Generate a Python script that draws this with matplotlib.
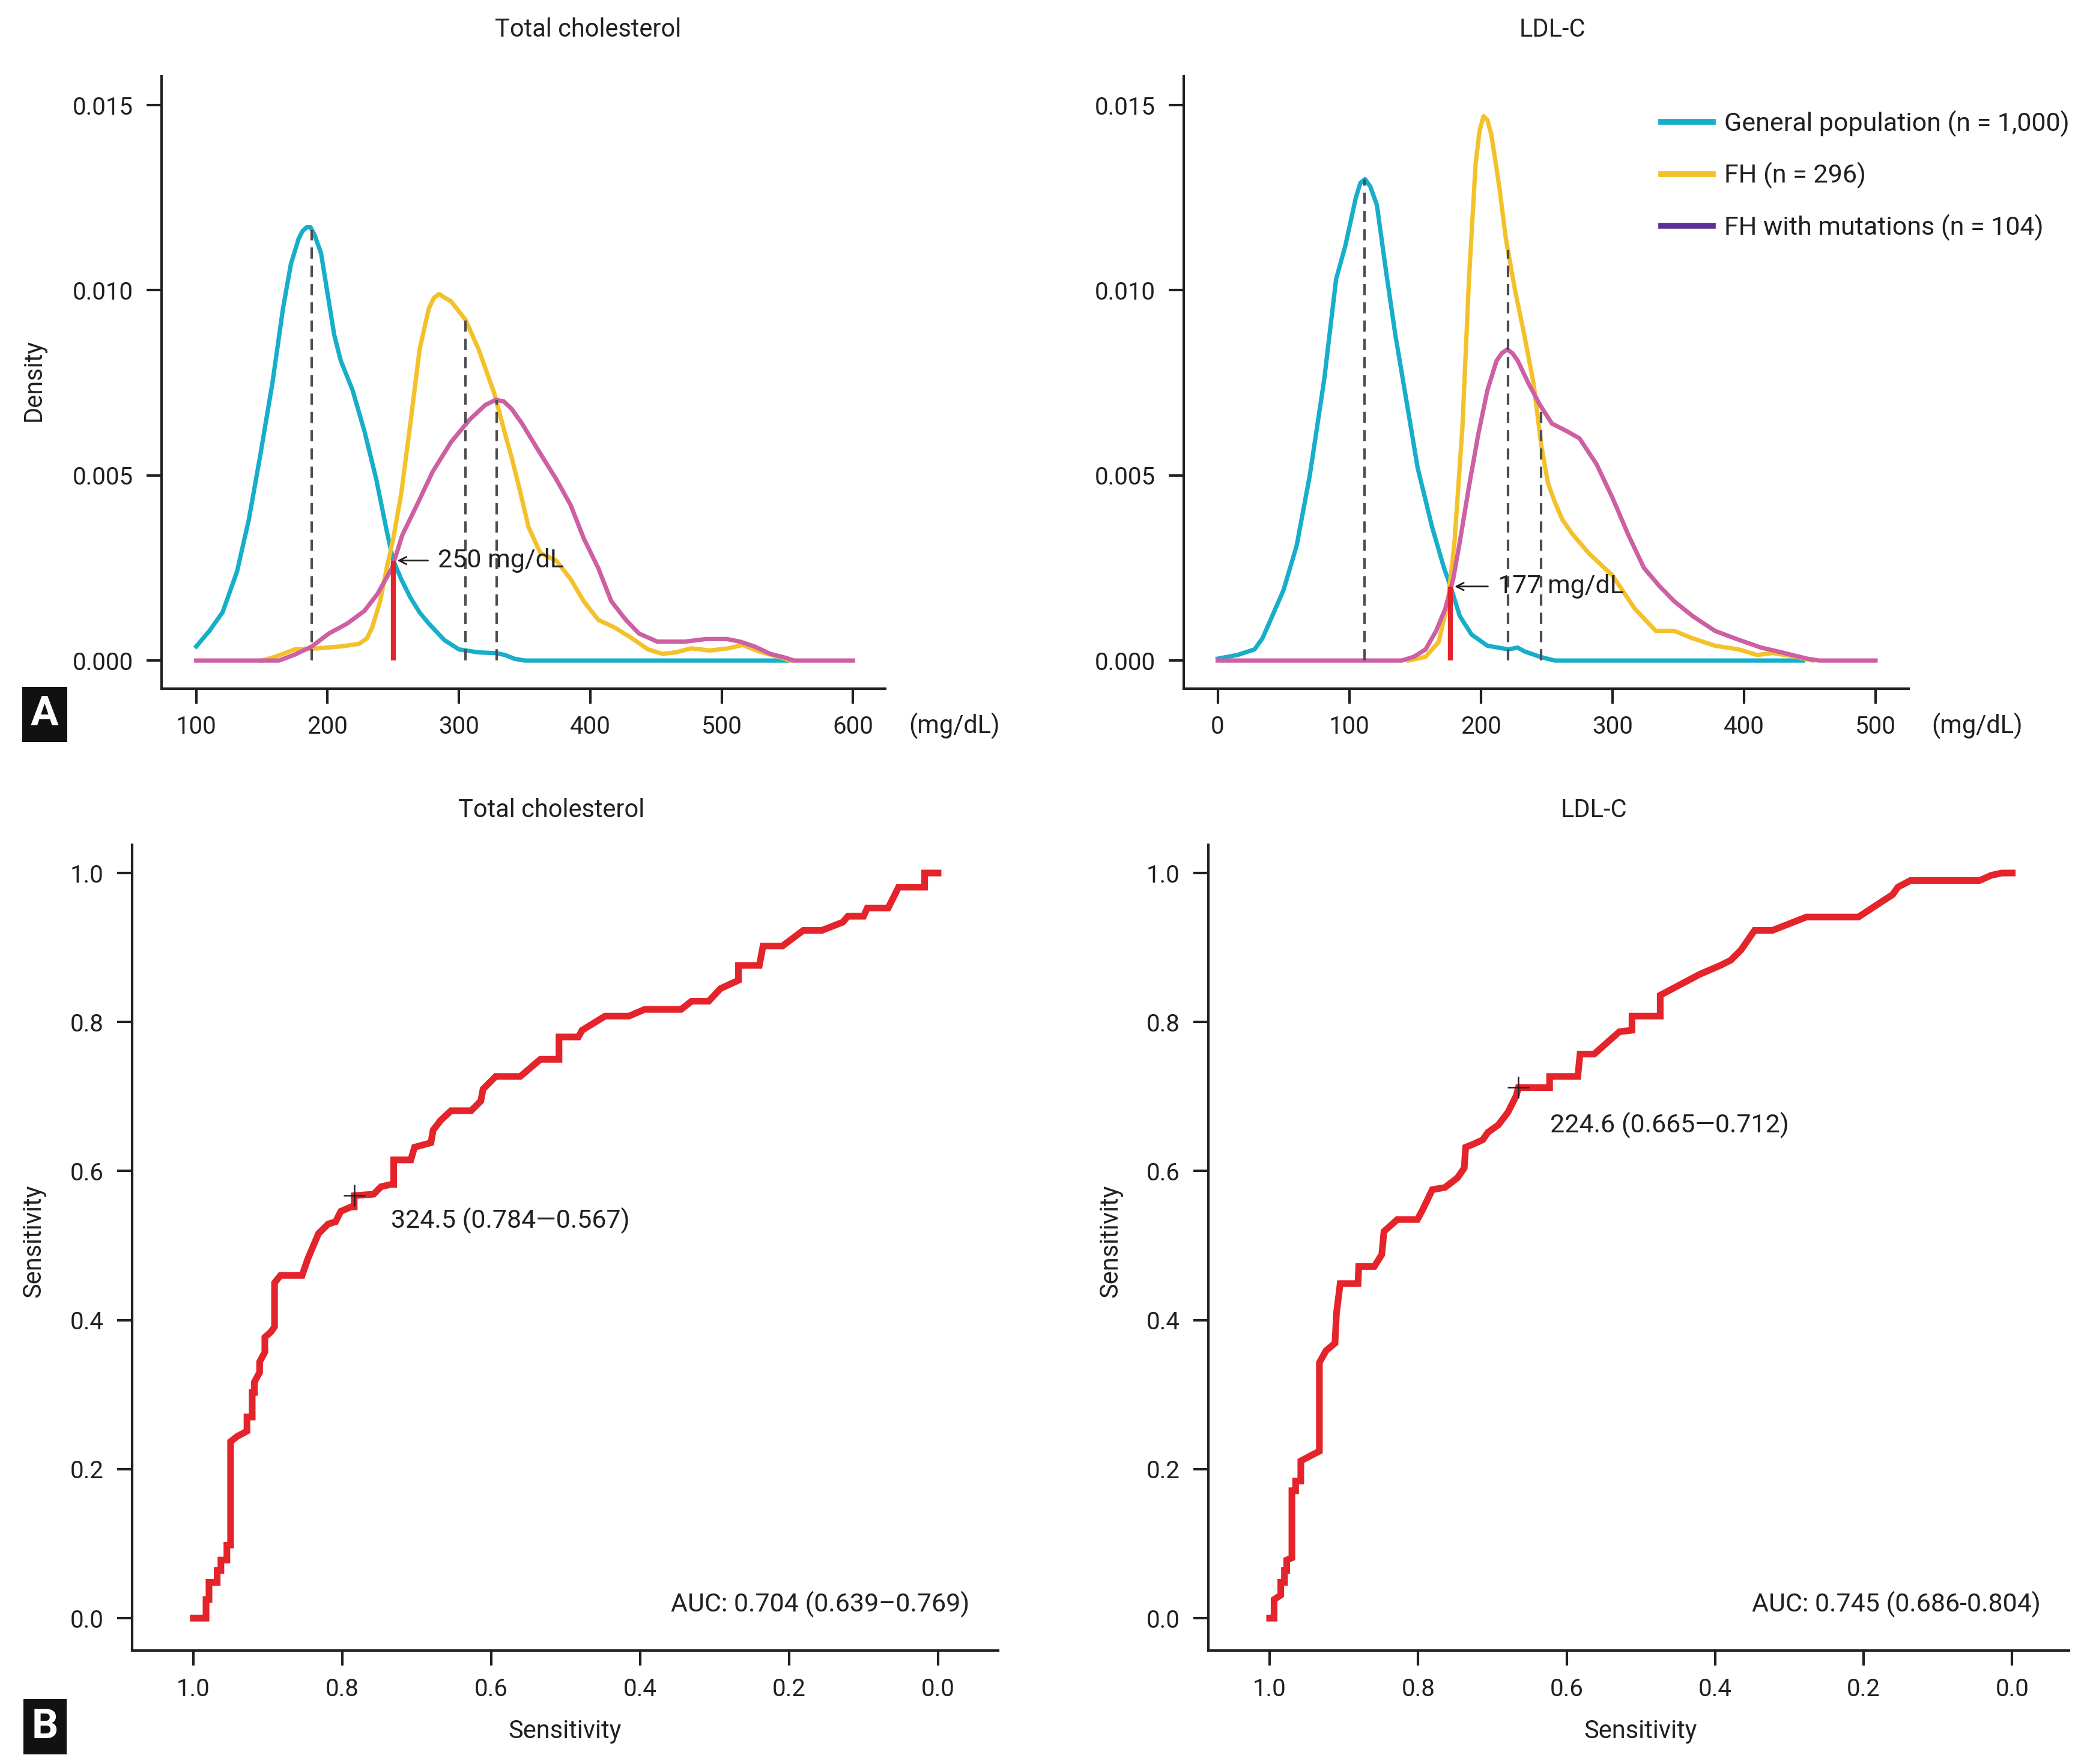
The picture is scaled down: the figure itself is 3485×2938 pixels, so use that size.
import matplotlib.pyplot as plt
import numpy as np
from matplotlib.lines import Line2D

plt.rcParams["font.family"] = ["Roboto", "DejaVu Sans"]

# ---- density curves, total cholesterol (mg/dL, density) ----
tc_gen_x = [100, 110, 120, 125, 131, 140, 149, 158, 166, 172, 178, 181, 184, 187, 190,
            195, 200, 205, 210, 219, 228, 237, 245, 250, 256, 263, 270, 277, 289, 300,
            315, 328, 335, 342, 350, 400, 500, 550]
tc_gen_y = [0.00038, 0.0008, 0.0013, 0.0018, 0.0024, 0.0038, 0.0056, 0.0075, 0.0095,
            0.0107, 0.0114, 0.0116, 0.0117, 0.0117, 0.0115, 0.0110, 0.0099, 0.0088,
            0.0081, 0.0073, 0.0062, 0.0049, 0.0035, 0.0027, 0.0022, 0.0017, 0.0013,
            0.0010, 0.00055, 0.0003, 0.00022, 0.0002, 0.00015, 0.00005, 0.0, 0.0, 0.0, 0.0]
tc_fh_x = [150, 160, 175, 193, 210, 224, 230, 234, 240, 245, 250, 256, 263, 270, 277,
           281, 285, 289, 294, 305, 315, 327, 336, 340, 347, 353, 362, 368, 374, 385,
           395, 406, 418, 430, 444, 455, 465, 477, 491, 505, 516, 528, 546, 553]
tc_fh_y = [0.0, 0.0001, 0.0003, 0.00033, 0.00038, 0.00045, 0.0006, 0.0009, 0.0016,
           0.0025, 0.0033, 0.0045, 0.0064, 0.0084, 0.0095, 0.0098, 0.0099, 0.0098,
           0.0097, 0.0092, 0.0084, 0.0072, 0.0060, 0.0055, 0.0045, 0.0036, 0.0029,
           0.0028, 0.0027, 0.0022, 0.0016, 0.0011, 0.0009, 0.00064, 0.0003, 0.00018,
           0.00022, 0.00033, 0.00027, 0.00033, 0.00042, 0.00025, 0.00007, 0.0]
tc_mut_x = [100, 163, 175, 188, 201, 215, 228, 238, 249, 257, 268, 280, 294, 308, 320,
            328, 334, 340, 348, 360, 374, 385, 395, 406, 416, 427, 437, 451, 472, 488,
            504, 514, 525, 537, 549, 555, 600]
tc_mut_y = [0.0, 0.0, 0.00016, 0.00038, 0.00073, 0.0010, 0.00134, 0.0018, 0.0025,
            0.0034, 0.0042, 0.0051, 0.0059, 0.0065, 0.0069, 0.00704, 0.0070, 0.0068,
            0.0064, 0.0057, 0.0049, 0.0042, 0.0033, 0.0025, 0.0016, 0.0011, 0.00073,
            0.00051, 0.00051, 0.00058, 0.00058, 0.00051, 0.00038, 0.00018, 0.00007,
            0.0, 0.0]

# ---- density curves, LDL-C ----
ldl_gen_x = [0, 15, 28, 34, 39, 50, 60, 70, 81, 90, 97, 105, 108.5, 112, 116, 121, 128,
             135, 144, 152, 163, 172, 177, 184, 193, 205, 221, 228, 233, 245, 256, 445]
ldl_gen_y = [0.00005, 0.00015, 0.0003, 0.0006, 0.001, 0.0019, 0.0031, 0.005, 0.0076,
             0.0103, 0.0112, 0.0125, 0.0129, 0.0130, 0.0128, 0.0123, 0.0105, 0.0088,
             0.0069, 0.0052, 0.0036, 0.0025, 0.002, 0.0012, 0.0007, 0.0004, 0.0003,
             0.00035, 0.00025, 0.0001, 0.0, 0.0]
ldl_fh_x = [145, 158, 168, 175, 180, 186, 191, 196, 199, 202, 205, 208, 214, 219, 226,
            233, 240, 246, 251, 256, 262, 270, 282, 300, 317, 333, 347, 361, 378, 396,
            410, 422, 440, 452]
ldl_fh_y = [0.0, 0.0001, 0.0005, 0.0016, 0.0032, 0.0063, 0.0103, 0.0134, 0.0143,
            0.0147, 0.0146, 0.0142, 0.0128, 0.0114, 0.0100, 0.0088, 0.0075, 0.0058,
            0.0048, 0.0043, 0.0038, 0.0034, 0.0029, 0.0023, 0.0014, 0.0008, 0.0008,
            0.0006, 0.0004, 0.0003, 0.00015, 0.0002, 0.0001, 0.0]
ldl_mut_x = [0, 140, 149, 158, 166, 173, 179, 184, 191, 198, 205, 212, 216, 220, 224,
             228, 236, 245, 254, 265, 275, 288, 300, 312, 324, 336, 347, 361, 378, 396,
             413, 431, 448, 457, 500]
ldl_mut_y = [0.0, 0.0, 0.0001, 0.0003, 0.0008, 0.0014, 0.0022, 0.0032, 0.0047, 0.0061,
             0.0073, 0.0081, 0.0083, 0.0084, 0.0083, 0.0081, 0.0075, 0.0069, 0.0064,
             0.0062, 0.0060, 0.0053, 0.0044, 0.0034, 0.0025, 0.002, 0.0016, 0.0012,
             0.0008, 0.00056, 0.00035, 0.0002, 0.00005, 0.0, 0.0]

# medians (dashed) and cut-offs (red)
tc_medians = [188, 305, 328.5]
ldl_medians = [111.5, 220.5, 246]
tc_cutoff = 250
ldl_cutoff = 177

# ---- ROC curves (specificity, sensitivity) ----
roc_tc_spec = [1.0, 0.983, 0.983, 0.979, 0.979, 0.968, 0.968, 0.963, 0.963, 0.955, 0.955,
               0.950, 0.950, 0.941, 0.928, 0.928, 0.921, 0.921, 0.918, 0.918, 0.911, 0.911,
               0.904, 0.904, 0.896, 0.891, 0.891, 0.883, 0.854, 0.846, 0.832, 0.819, 0.809,
               0.802, 0.788, 0.784, 0.784, 0.758, 0.748, 0.735, 0.731, 0.731, 0.708, 0.703,
               0.681, 0.678, 0.668, 0.654, 0.627, 0.614, 0.611, 0.594, 0.561, 0.534, 0.509,
               0.509, 0.483, 0.478, 0.447, 0.415, 0.394, 0.345, 0.331, 0.308, 0.292, 0.268,
               0.268, 0.240, 0.235, 0.209, 0.181, 0.156, 0.128, 0.121, 0.100, 0.095, 0.067,
               0.053, 0.018, 0.018, 0.0]
roc_tc_sens = [0.0, 0.0, 0.025, 0.025, 0.048, 0.048, 0.064, 0.064, 0.078, 0.078, 0.098,
               0.098, 0.237, 0.244, 0.251, 0.270, 0.270, 0.303, 0.303, 0.317, 0.330, 0.344,
               0.357, 0.377, 0.384, 0.391, 0.450, 0.460, 0.460, 0.483, 0.516, 0.529, 0.532,
               0.546, 0.552, 0.552, 0.567, 0.569, 0.579, 0.582, 0.582, 0.615, 0.615, 0.632,
               0.638, 0.655, 0.668, 0.681, 0.681, 0.694, 0.710, 0.727, 0.727, 0.750, 0.750,
               0.780, 0.780, 0.789, 0.808, 0.808, 0.817, 0.817, 0.828, 0.828, 0.845, 0.856,
               0.876, 0.876, 0.902, 0.902, 0.923, 0.923, 0.934, 0.942, 0.942, 0.953, 0.953,
               0.981, 0.981, 1.0, 1.0]
roc_ldl_spec = [1.0, 0.994, 0.994, 0.985, 0.985, 0.980, 0.980, 0.977, 0.977, 0.970, 0.970,
                0.965, 0.965, 0.958, 0.958, 0.941, 0.933, 0.933, 0.924, 0.912, 0.910, 0.905,
                0.881, 0.880, 0.859, 0.849, 0.846, 0.828, 0.801, 0.794, 0.781, 0.764, 0.747,
                0.738, 0.736, 0.726, 0.713, 0.706, 0.692, 0.679, 0.668, 0.665, 0.623, 0.623,
                0.585, 0.582, 0.563, 0.529, 0.512, 0.512, 0.474, 0.474, 0.421, 0.393, 0.379,
                0.365, 0.347, 0.323, 0.277, 0.207, 0.175, 0.161, 0.154, 0.137, 0.044, 0.028,
                0.014, 0.0]
roc_ldl_sens = [0.0, 0.0, 0.025, 0.031, 0.048, 0.048, 0.064, 0.064, 0.078, 0.081, 0.171,
                0.171, 0.184, 0.184, 0.211, 0.220, 0.224, 0.343, 0.359, 0.369, 0.409, 0.449,
                0.449, 0.472, 0.472, 0.488, 0.519, 0.535, 0.535, 0.548, 0.575, 0.578, 0.591,
                0.604, 0.632, 0.636, 0.642, 0.652, 0.662, 0.679, 0.701, 0.712, 0.712, 0.727,
                0.727, 0.757, 0.757, 0.787, 0.789, 0.808, 0.808, 0.836, 0.864, 0.876, 0.883,
                0.897, 0.923, 0.923, 0.941, 0.941, 0.962, 0.971, 0.981, 0.990, 0.990, 0.997,
                1.0, 1.0]
tc_best = (0.784, 0.567, "324.5 (0.784\u20140.567)")
ldl_best = (0.665, 0.712, "224.6 (0.665\u20140.712)")
tc_auc = "AUC: 0.704 (0.639\u20130.769)"
ldl_auc = "AUC: 0.745 (0.686-0.804)"

legend_labels = ["General population (n = 1,000)", "FH (n = 296)", "FH with mutations (n = 104)"]

C_GEN = "#17aec9"
C_FH = "#f3c22a"
C_MUT = "#cd5fa3"
C_LEG_MUT = "#5b3196"
C_RED = "#e5232a"
TXT = "#231f20"

fig = plt.figure(figsize=(34.85, 29.38), dpi=100)


def style_axes(ax):
    for s in ["top", "right"]:
        ax.spines[s].set_visible(False)
    for s in ["left", "bottom"]:
        ax.spines[s].set_linewidth(3)
        ax.spines[s].set_color(TXT)
    ax.tick_params(length=18, width=3, color=TXT, labelcolor=TXT, labelsize=29)
    ax.tick_params(axis="x", pad=14)
    ax.tick_params(axis="y", pad=16)


def density_panel(ax, curves, medians, med_curves, cutoff, label_x, arrow_x, label):
    for (x, y, c) in curves:
        ax.plot(x, y, color=c, lw=5.2, solid_joinstyle="round")
    for m, (cx, cy) in zip(medians, med_curves):
        top = np.interp(m, cx, cy)
        ax.vlines(m, 0, top, colors="#4d4d4f", lw=3.0, linestyles=(0, (4.5, 2.8)))
    cx, cy = curves[0][0], curves[0][1]
    ytop = np.interp(cutoff, cx, cy)
    ax.vlines(cutoff, 0, ytop, colors=C_RED, lw=6)
    ax.annotate(label, xy=(arrow_x, ytop), xytext=(label_x, ytop),
                ha="left", va="center", fontsize=31, color=TXT,
                arrowprops=dict(arrowstyle="->", color=TXT, lw=2,
                                shrinkA=10, shrinkB=0, mutation_scale=22))
    ax.set_ylim(-0.00076, 0.01578)
    ax.set_yticks([0.0, 0.005, 0.010, 0.015])
    ax.set_yticklabels(["0.000", "0.005", "0.010", "0.015"])
    style_axes(ax)


# ---- panel A ----
ax1 = fig.add_axes([0.0772, 0.6096, 0.3458, 0.3472])
density_panel(ax1,
              [(tc_gen_x, tc_gen_y, C_GEN), (tc_fh_x, tc_fh_y, C_FH), (tc_mut_x, tc_mut_y, C_MUT)],
              tc_medians,
              [(tc_gen_x, tc_gen_y), (tc_fh_x, tc_fh_y), (tc_mut_x, tc_mut_y)],
              tc_cutoff, 284, 253, "250 mg/dL")
ax1.set_xlim(73.6, 624.6)
ax1.set_xticks([100, 200, 300, 400, 500, 600])

ax2 = fig.add_axes([0.5657, 0.6096, 0.3463, 0.3472])
density_panel(ax2,
              [(ldl_gen_x, ldl_gen_y, C_GEN), (ldl_fh_x, ldl_fh_y, C_FH), (ldl_mut_x, ldl_mut_y, C_MUT)],
              ldl_medians,
              [(ldl_gen_x, ldl_gen_y), (ldl_fh_x, ldl_fh_y), (ldl_mut_x, ldl_mut_y)],
              ldl_cutoff, 213, 180, "177 mg/dL")
ax2.set_xlim(-25.6, 525.3)
ax2.set_xticks([0, 100, 200, 300, 400, 500])

handles = [Line2D([], [], color=c, lw=7) for c in (C_GEN, C_FH, C_LEG_MUT)]
ax2.legend(handles, legend_labels, loc="upper left", bbox_to_anchor=(0.658, 0.944),
           frameon=False, fontsize=31, handlelength=2.0, handletextpad=0.45,
           labelspacing=0.98, borderpad=0, borderaxespad=0, labelcolor=TXT)

fig.text(0.281, 0.9833, "Total cholesterol", ha="center", va="center", fontsize=30, color=TXT)
fig.text(0.7418, 0.9833, "LDL-C", ha="center", va="center", fontsize=30, color=TXT)
fig.text(0.016, 0.7845, "Density", ha="center", va="center", rotation=90, fontsize=30, color=TXT)
fig.text(0.456, 0.5885, "(mg/dL)", ha="center", va="center", fontsize=30, color=TXT)
fig.text(0.9446, 0.5885, "(mg/dL)", ha="center", va="center", fontsize=30, color=TXT)


# ---- panel B ----
def roc_panel(ax, spec, sens, best, auc, offset):
    ax.plot(spec, sens, color=C_RED, lw=8, solid_joinstyle="miter")
    ax.plot(best[0], best[1], marker="+", color=TXT, ms=26, mew=1.8)
    ax.annotate(best[2], xy=(best[0], best[1]), xytext=offset, textcoords="offset points",
                ha="left", va="center", fontsize=31, color=TXT)
    ax.text(0.967, 0.0577, auc, transform=ax.transAxes, ha="right", va="center",
            fontsize=31, color=TXT)
    ax.set_ylim(-0.0435, 1.0379)
    ax.set_xticks([1.0, 0.8, 0.6, 0.4, 0.2, 0.0])
    ax.set_yticks([0.0, 0.2, 0.4, 0.6, 0.8, 1.0])
    ax.xaxis.set_major_formatter(plt.FormatStrFormatter("%.1f"))
    ax.yaxis.set_major_formatter(plt.FormatStrFormatter("%.1f"))
    style_axes(ax)


ax3 = fig.add_axes([0.0631, 0.0643, 0.4139, 0.4568])
roc_panel(ax3, roc_tc_spec, roc_tc_sens, tc_best, tc_auc, (44, -30))
ax3.set_xlim(1.0823, -0.081)

ax4 = fig.add_axes([0.5772, 0.0643, 0.4113, 0.4568])
roc_panel(ax4, roc_ldl_spec, roc_ldl_sens, ldl_best, ldl_auc, (38, -45))
ax4.set_xlim(1.0829, -0.0764)

fig.text(0.2634, 0.5408, "Total cholesterol", ha="center", va="center", fontsize=30, color=TXT)
fig.text(0.7615, 0.5408, "LDL-C", ha="center", va="center", fontsize=30, color=TXT)
fig.text(0.016, 0.2965, "Sensitivity", ha="center", va="center", rotation=90, fontsize=30, color=TXT)
fig.text(0.5306, 0.2965, "Sensitivity", ha="center", va="center", rotation=90, fontsize=30, color=TXT)
fig.text(0.2698, 0.0187, "Sensitivity", ha="center", va="center", fontsize=30, color=TXT)
fig.text(0.7838, 0.0187, "Sensitivity", ha="center", va="center", fontsize=30, color=TXT)

# panel letters
for letter, y in (("A", 0.595), ("B", 0.0211)):
    fig.text(0.0214, y, letter, ha="center", va="center", fontsize=50, fontweight="bold",
             color="white", bbox=dict(boxstyle="square,pad=0.2", fc="#111111", ec="none"))

fig.savefig("out.png", dpi=100, facecolor="white")
